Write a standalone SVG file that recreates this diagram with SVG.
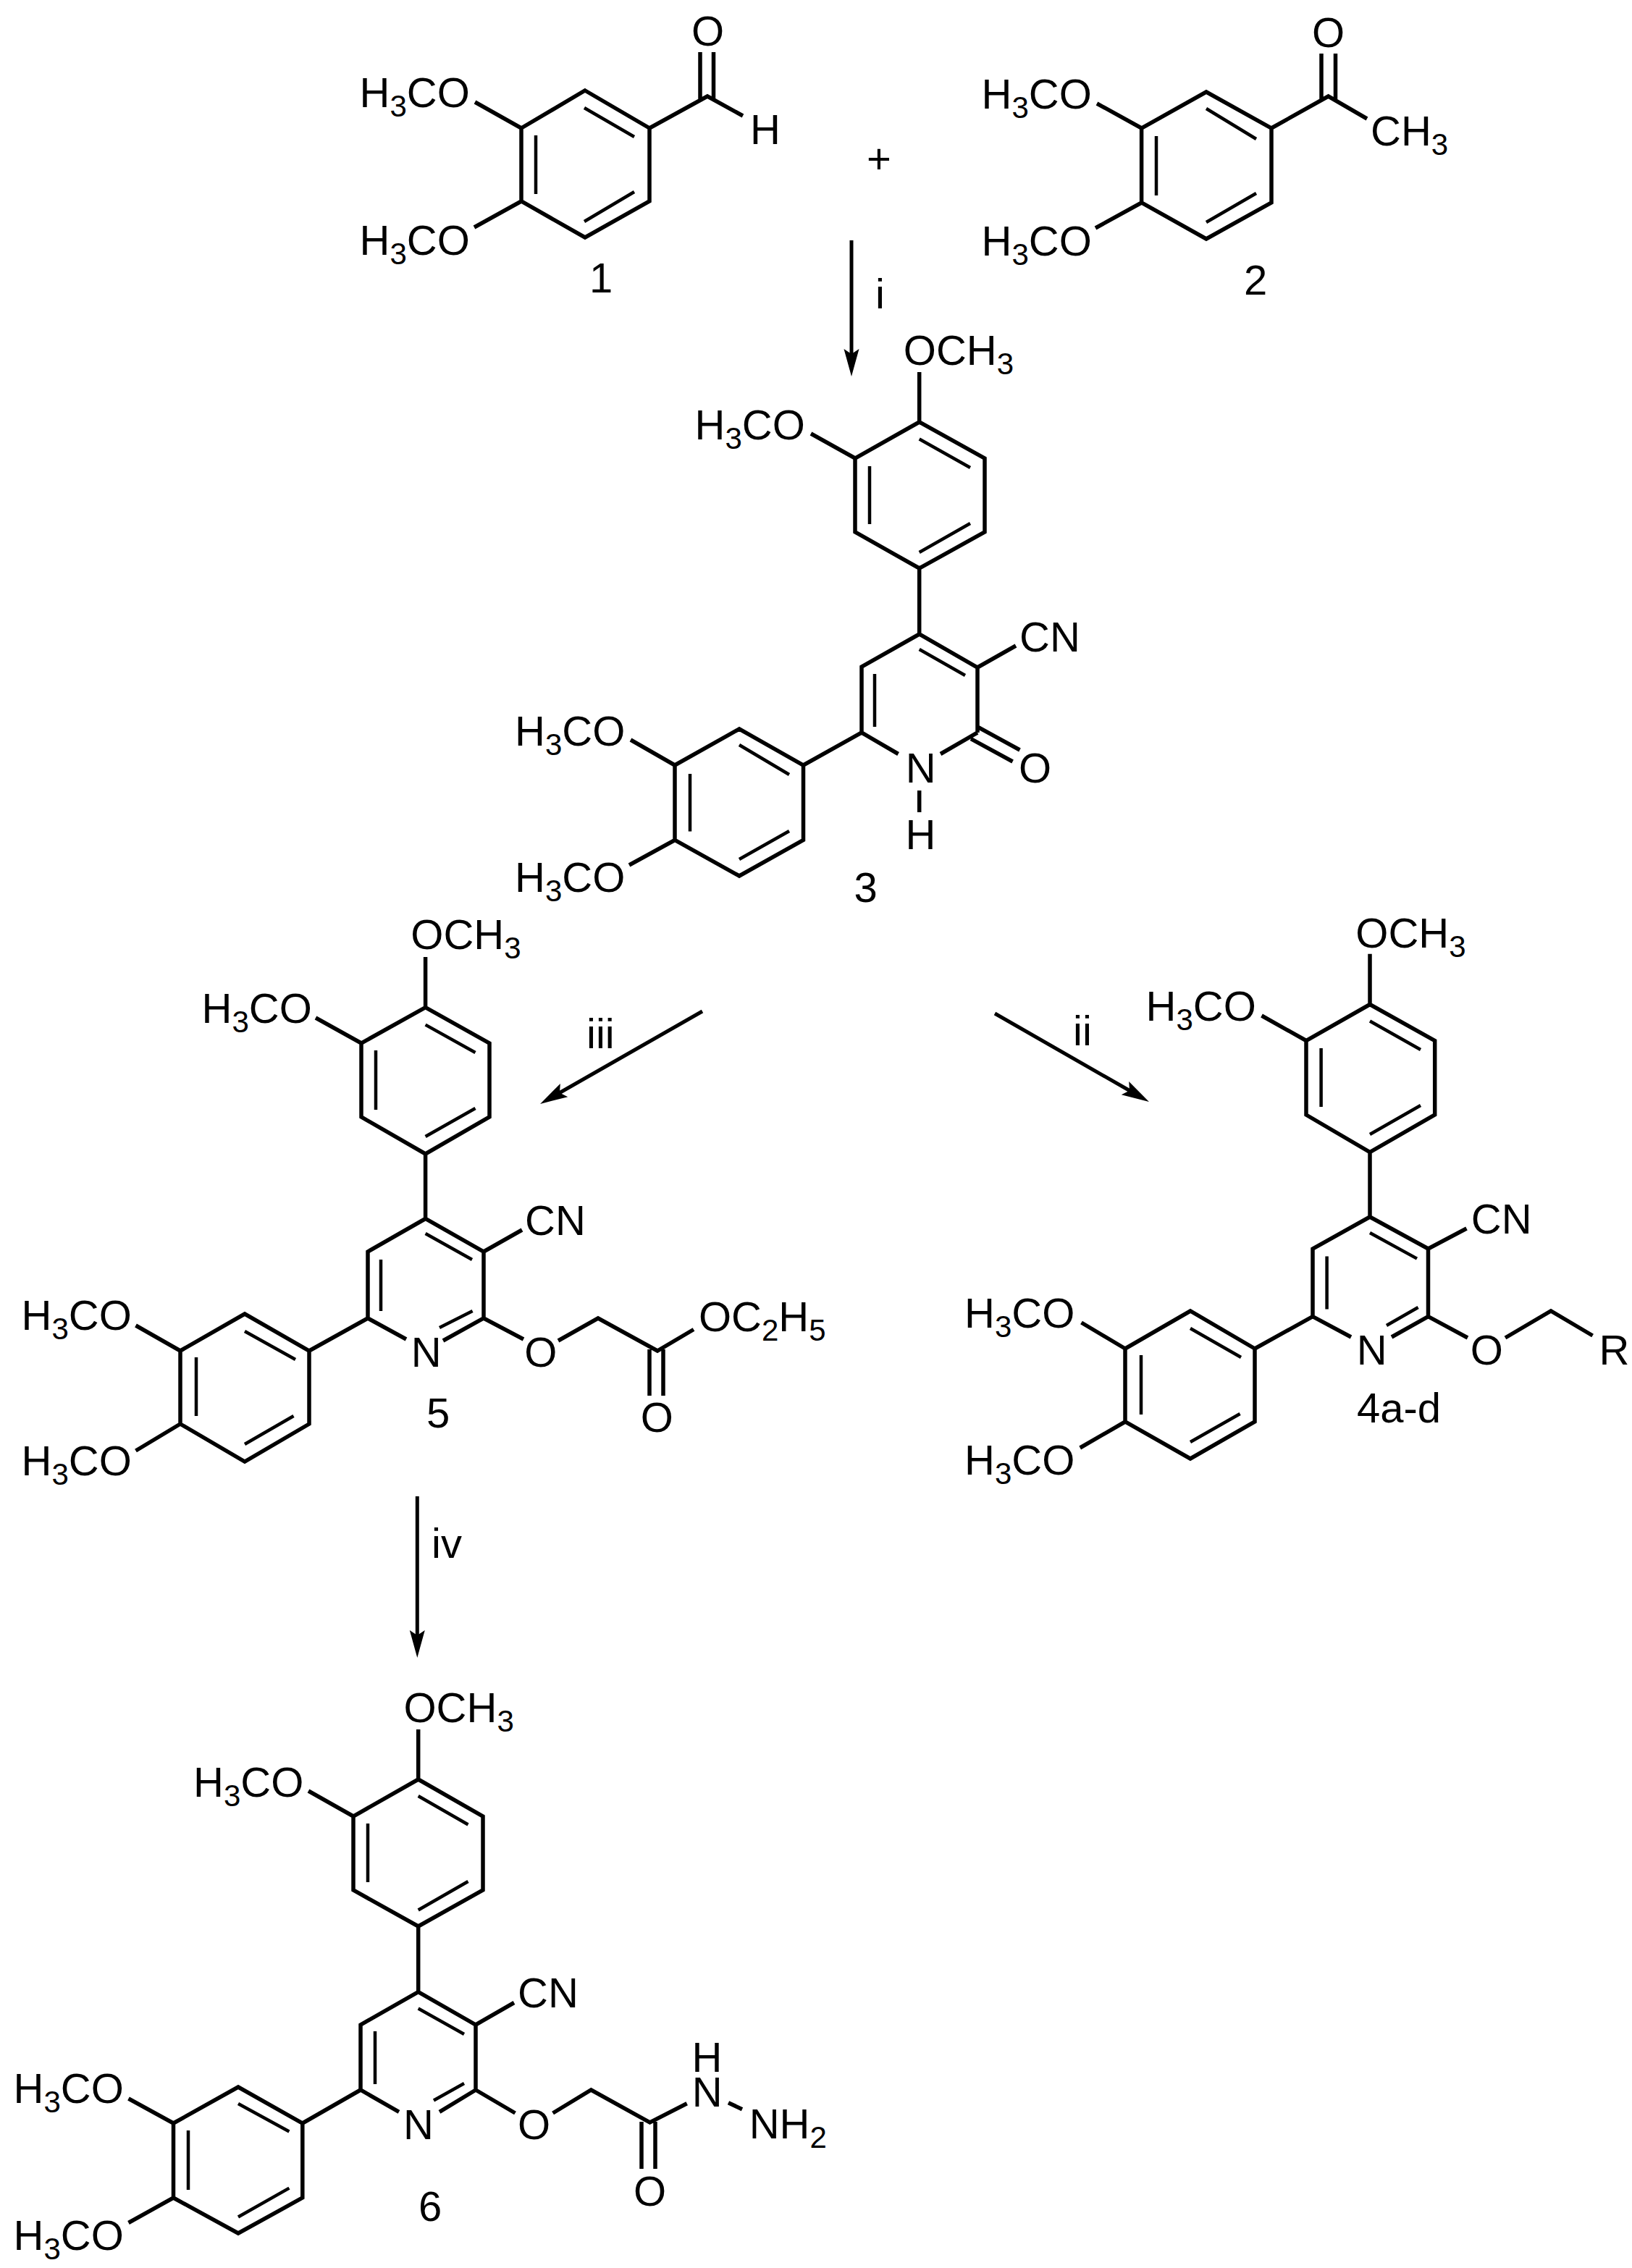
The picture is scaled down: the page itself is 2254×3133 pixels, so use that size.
<svg xmlns="http://www.w3.org/2000/svg" width="2254" height="3133" viewBox="0 0 2254 3133">
<style>
text{font-family:"Liberation Sans",Arial,sans-serif;font-size:58px;fill:#000}
.s{font-size:42px}
.b{fill:none;stroke:#000;stroke-width:5.5;stroke-linejoin:miter;stroke-linecap:butt}
.d{fill:none;stroke:#000;stroke-width:4.5;stroke-linecap:butt}
.a{fill:none;stroke:#000;stroke-width:5;marker-end:url(#head)}
</style>
<defs>
<marker id="head" markerUnits="userSpaceOnUse" markerWidth="60" markerHeight="40" refX="20" refY="20" orient="auto" overflow="visible">
<path d="M40 20L2 9.5L9 20L2 30.5Z" fill="#000"/>
</marker>
</defs>
<rect width="2254" height="3133" fill="#fff"/>

<g id="connectors">
<line class="a" x1="1176" y1="332" x2="1176" y2="500"/>
<line class="a" x1="970" y1="1397" x2="763.4" y2="1515"/>
<line class="a" x1="1374" y1="1400" x2="1569.6" y2="1512"/>
<line class="a" x1="576.3" y1="2067" x2="576.3" y2="2270"/>
</g>

<g id="labels">
<text x="1197" y="238.7">+</text>
<text x="1209" y="426">i</text>
<text x="810" y="1448">iii</text>
<text x="1482" y="1444">ii</text>
<text x="596" y="2152">iv</text>
</g>

<g id="compound-1">
<path class="b" d="M808 125L897 177V278L808 328L720 278V177ZM656 141L720 177M655 314L720 278M897 177L977 133L1026 160M967 72V137M985.5 72V137"/>
<path class="d" d="M807 149L876 189M740 187V268M807 306L876 265"/>
<text x="496.500" y="148">H<tspan class="s" dy="13">3</tspan><tspan dy="-13">CO</tspan></text>
<text x="496.500" y="352">H<tspan class="s" dy="13">3</tspan><tspan dy="-13">CO</tspan></text>
<text x="955" y="63">O</text>
<text x="1036" y="199">H</text>
<text x="814" y="404">1</text>
</g>

<g id="compound-2">
<path class="b" d="M1666 127L1756 177V280L1666 330L1576.600 280V177ZM1515 143L1576.600 177M1513 315L1576.600 280M1756 177L1834.600 133L1888 164M1825 74V138M1844.500 74V138"/>
<path class="d" d="M1666 150L1735 192M1597 188V270M1666 307L1735 267"/>
<text x="1355.500" y="150">H<tspan class="s" dy="13">3</tspan><tspan dy="-13">CO</tspan></text>
<text x="1355.500" y="353">H<tspan class="s" dy="13">3</tspan><tspan dy="-13">CO</tspan></text>
<text x="1812" y="65">O</text>
<text x="1893" y="201">CH<tspan class="s" dy="13">3</tspan></text>
<text x="1718" y="407">2</text>
</g>

<g id="compound-3">
<path class="b" d="M1269.700 583L1360 633V735L1269.700 785L1181 735V633ZM1269.700 583V514M1120 599L1181 633M1269.700 785V876L1350 922V1012M1269.700 876L1190 921V1012M1350 922L1403 892M1190 1012L1240.600 1041.500M1299 1041.500L1350 1012M1350 1004L1408.500 1036M1341 1020.700L1398.600 1052M1269.700 1092V1122"/>
<path class="d" d="M1269.700 606.500L1340 646M1201 644V724M1269.700 763L1340 723M1269.700 897L1333 933M1208 931V1004"/>
<path class="b" d="M932 1057L1021 1007L1109.500 1057V1160.500L1021 1210L932 1160.500ZM1109.500 1057L1190 1012M871 1022L932 1057M869 1195L932 1160.500"/>
<path class="d" d="M1021 1029L1090 1070M953 1069V1148.500M1021 1187L1090 1148"/>
<text x="1247.800" y="504">OCH<tspan class="s" dy="13">3</tspan></text>
<text x="959.500" y="606.500">H<tspan class="s" dy="13">3</tspan><tspan dy="-13">CO</tspan></text>
<text x="1408" y="900">CN</text>
<text x="1406.900" y="1081">O</text>
<text x="1250.700" y="1081">N</text>
<text x="1250.500" y="1172.600">H</text>
<text x="711" y="1030">H<tspan class="s" dy="13">3</tspan><tspan dy="-13">CO</tspan></text>
<text x="711" y="1232">H<tspan class="s" dy="13">3</tspan><tspan dy="-13">CO</tspan></text>
<text x="1179.500" y="1245.500">3</text>
</g>

<g id="compound-5">
<path class="b" d="M587.600 1391.600L676 1441V1543L587.600 1594L499 1543V1441ZM587.600 1391.600V1322M436 1406L499 1441M587.600 1594V1683.500L668 1729V1821L612 1852M587.600 1683.500L508 1729V1821L561 1850M668 1729L721 1699M668 1821L723 1850M771 1852L826 1821L908 1866L958 1836.500M897 1864V1928M916 1864V1928"/>
<path class="d" d="M587.600 1415.600L656.500 1454M519 1451V1533M587.600 1570L656.500 1531M587.600 1704L652 1740M526 1740V1811M607 1834L652.600 1811"/>
<path class="b" d="M249 1866L338 1815L427 1866V1967L338 2019L249 1967ZM427 1866L508 1821M187.500 1831L249 1866M187.500 2004L249 1967"/>
<path class="d" d="M338 1839L408 1878M271 1875V1956M338 1995L405.500 1956"/>
<text x="567.300" y="1311">OCH<tspan class="s" dy="13">3</tspan></text>
<text x="278.500" y="1413">H<tspan class="s" dy="13">3</tspan><tspan dy="-13">CO</tspan></text>
<text x="725" y="1706">CN</text>
<text x="567.700" y="1887.500">N</text>
<text x="724.300" y="1887.500">O</text>
<text x="965" y="1839">OC<tspan class="s" dy="13">2</tspan><tspan dy="-13">H</tspan><tspan class="s" dy="13">5</tspan></text>
<text x="884.800" y="1978">O</text>
<text x="29.500" y="1836.500">H<tspan class="s" dy="13">3</tspan><tspan dy="-13">CO</tspan></text>
<text x="29.500" y="2038">H<tspan class="s" dy="13">3</tspan><tspan dy="-13">CO</tspan></text>
<text x="589" y="1972">5</text>
</g>

<g id="compound-4">
<path class="b" d="M1892 1387.500L1981.700 1437.500V1540L1892 1591.600L1804 1540V1437.500ZM1892 1387.500V1317.700M1742.500 1403L1804 1437.500M1892 1591.600V1681L1972.500 1725V1818.700L1922 1847M1892 1681L1813 1725V1818.700L1866 1847M1972.500 1725L2025.500 1697M1972.500 1818.700L2027 1848M2079 1848L2142 1811L2199.600 1845"/>
<path class="d" d="M1892 1410.500L1962 1450M1824.600 1448V1529M1892 1567L1962 1527M1892 1703L1957 1738.600M1832.600 1735.500V1808.500M1915 1831L1958.600 1806"/>
<path class="b" d="M1554 1863L1644 1811L1733 1863V1964L1644 2015L1554 1964ZM1733 1863L1813 1818.700M1493.500 1827L1554 1863M1491.700 2000L1554 1964"/>
<path class="d" d="M1644 1835L1714 1875M1576 1872V1954M1644 1992L1712.600 1953"/>
<text x="1872.300" y="1308.500">OCH<tspan class="s" dy="13">3</tspan></text>
<text x="1582.500" y="1409.500">H<tspan class="s" dy="13">3</tspan><tspan dy="-13">CO</tspan></text>
<text x="2031.800" y="1704">CN</text>
<text x="1873.700" y="1885">N</text>
<text x="2030.700" y="1885">O</text>
<text x="2208.500" y="1885">R</text>
<text x="1332" y="1834">H<tspan class="s" dy="13">3</tspan><tspan dy="-13">CO</tspan></text>
<text x="1332" y="2036.500">H<tspan class="s" dy="13">3</tspan><tspan dy="-13">CO</tspan></text>
<text x="1874" y="1965">4a-d</text>
</g>

<g id="compound-6">
<path class="b" d="M577.700 2458L667 2509V2611L577.700 2661L488 2611V2509ZM577.700 2458V2389M426 2474L488 2509M577.700 2661V2751.600L657 2797V2887L607 2917.400M577.700 2751.600L498 2797V2887L551 2917.400M657 2797L710 2766.500M657 2887L711.500 2919M763.600 2919L816.400 2887L897.500 2932L948.700 2905.700M886 2931V2996M905 2931V2996M1006 2904.700L1025 2913.700"/>
<path class="d" d="M577.700 2481L646.500 2520.500M508 2519V2600M577.700 2638.500L646.500 2599M577.700 2774.500L641 2810M518 2806V2879M599 2901.500L641 2878"/>
<path class="b" d="M239.500 2933L329 2883L417.800 2933V3036L329 3085L239.500 3036ZM417.800 2933L498 2887M177.500 2899L239.500 2933M177.500 3070.500L239.500 3036"/>
<path class="d" d="M329 2906L399.400 2944.500M260 2943V3025M329 3062.500L399.400 3022.600"/>
<text x="557.500" y="2378.600">OCH<tspan class="s" dy="13">3</tspan></text>
<text x="267" y="2481.700">H<tspan class="s" dy="13">3</tspan><tspan dy="-13">CO</tspan></text>
<text x="715" y="2773">CN</text>
<text x="557" y="2954.600">N</text>
<text x="715" y="2954.600">O</text>
<text x="875" y="3046.500">O</text>
<text x="955.700" y="2910">N</text>
<text x="955.500" y="2861.600">H</text>
<text x="1034.700" y="2953.500">NH<tspan class="s" dy="13">2</tspan></text>
<text x="18.500" y="2904.700">H<tspan class="s" dy="13">3</tspan><tspan dy="-13">CO</tspan></text>
<text x="18.500" y="3107.700">H<tspan class="s" dy="13">3</tspan><tspan dy="-13">CO</tspan></text>
<text x="578" y="3068">6</text>
</g>
</svg>
